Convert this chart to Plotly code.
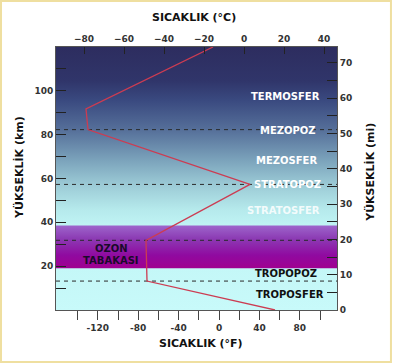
import plotly.graph_objects as go

# ---- data ----
temp_c = [-15.5, -79, -78, 3, -49, -48.5, 15.5]
alt_km = [120, 91.8, 82.3, 57.3, 31.8, 13.2, 0]
boundary_km = [82.3, 57.3, 31.8, 13.2]
ozone_km = [19.1, 38.6]

layer_names = ["TERMOSFER", "MEZOPOZ", "MEZOSFER", "STRATOPOZ", "STRATOSFER",
               "OZON", "TABAKASI", "TROPOPOZ", "TROPOSFER"]
layer_x_c = [20.5, 22, 21, 21.5, 19.5, -66.5, -66.5, 21, 23]
layer_y_km = [97.3, 82, 68.2, 57.3, 45.5, 28.2, 22.7, 16.8, 7.3]
layer_colors = ["#ffffff", "#ffffff", "#ffffff", "#ffffff", "rgba(255,255,255,0.85)",
                "#1a0a2a", "#1a0a2a", "#111111", "#111111"]

c_ticks = [-80, -60, -40, -20, 0, 20, 40]
f_ticks = [-140, -120, -100, -80, -60, -40, -20, 0, 20, 40, 60, 80, 100]
f_labels = ["" if v % 40 else str(v) for v in f_ticks]
km_ticks = [10, 20, 30, 40, 50, 60, 70, 80, 90, 100, 110]
km_labels = ["" if v % 20 else str(v) for v in km_ticks]
mi_ticks = [0, 5, 10, 15, 20, 25, 30, 35, 40, 45, 50, 55, 60, 65, 70]
mi_labels = ["" if v % 10 else str(v) for v in mi_ticks]

C_RANGE = [-94, 46.5]
F_RANGE = [-161.4, 116.8]
KM_RANGE = [0, 120]
MI_RANGE = [0, 74.5]

FONT = "DejaVu Sans"

fig = go.Figure()

# sky gradient background
fig.add_trace(go.Scatter(
    x=[C_RANGE[0], C_RANGE[1], C_RANGE[1], C_RANGE[0], C_RANGE[0]],
    y=[KM_RANGE[0], KM_RANGE[0], KM_RANGE[1], KM_RANGE[1], KM_RANGE[0]],
    xaxis="x2", yaxis="y", mode="lines", line=dict(width=0),
    fill="toself",
    fillgradient=dict(type="vertical", start=0, stop=120, colorscale=[
        [0.0, "#c8fafa"], [0.32, "#c0f4f4"], [0.38, "#b6eaec"],
        [0.475, "#9ccbd6"], [0.567, "#7ca4bc"], [0.683, "#56709a"],
        [0.796, "#3a4a80"], [0.871, "#30356a"], [1.0, "#2d2d5f"]]),
    hoverinfo="skip", showlegend=False))

# ozone band
fig.add_trace(go.Scatter(
    x=[C_RANGE[0], C_RANGE[1], C_RANGE[1], C_RANGE[0], C_RANGE[0]],
    y=[ozone_km[0], ozone_km[0], ozone_km[1], ozone_km[1], ozone_km[0]],
    xaxis="x2", yaxis="y", mode="lines", line=dict(width=0),
    fill="toself",
    fillgradient=dict(type="vertical", start=ozone_km[0], stop=ozone_km[1], colorscale=[
        [0.0, "#a00090"], [0.3, "#900aa0"], [0.7, "#8c3cb4"], [1.0, "#9e66cc"]]),
    hoverinfo="skip", showlegend=False))

# boundary dashed lines
for b in boundary_km:
    fig.add_trace(go.Scatter(
        x=C_RANGE, y=[b, b], xaxis="x2", yaxis="y", mode="lines",
        line=dict(color="#2a2a2a", width=1, dash="4px,4px"),
        hoverinfo="skip", showlegend=False))

# temperature profile
fig.add_trace(go.Scatter(
    x=temp_c, y=alt_km, xaxis="x2", yaxis="y", mode="lines",
    line=dict(color="#cc3c52", width=1.3), showlegend=False))

# dummy traces so the °F and mile axes get drawn
fig.add_trace(go.Scatter(x=[None], y=[None], xaxis="x", yaxis="y", showlegend=False))
fig.add_trace(go.Scatter(x=[None], y=[None], xaxis="x", yaxis="y2", showlegend=False))

tickfont = dict(family=FONT, size=9, color="#333333", weight="bold")

fig.update_layout(
    width=394, height=364,
    margin=dict(l=56, r=57, t=47, b=54),
    paper_bgcolor="#ffffff", plot_bgcolor="#c8fafa",
    showlegend=False,
    xaxis=dict(range=F_RANGE, tickvals=f_ticks, ticktext=f_labels, ticks="outside",
               ticklen=9, tickcolor="#444", showgrid=False, zeroline=False,
               showline=True, linecolor="#555", linewidth=1, tickfont=tickfont),
    xaxis2=dict(range=C_RANGE, overlaying="x", side="top", tickvals=c_ticks,
                ticks="inside", ticklen=7, tickcolor="#222", showgrid=False,
                zeroline=False, showline=True, linecolor="#555", linewidth=1,
                tickfont=tickfont),
    yaxis=dict(range=KM_RANGE, tickvals=km_ticks, ticktext=km_labels, ticks="inside",
               ticklen=10, tickcolor="#222", showgrid=False, zeroline=False,
               showline=True, linecolor="#555", linewidth=1, tickfont=tickfont),
    yaxis2=dict(range=MI_RANGE, overlaying="y", side="right", tickvals=mi_ticks,
                ticktext=mi_labels, ticks="inside", ticklen=10, tickcolor="#222",
                showgrid=False, zeroline=False, showline=True, linecolor="#555",
                linewidth=1, tickfont=tickfont),
)

# layer labels
for name, xc, yk, col in zip(layer_names, layer_x_c, layer_y_km, layer_colors):
    fig.add_annotation(x=xc, y=yk, xref="x2", yref="y", text=name, showarrow=False,
                       xanchor="center", yanchor="middle",
                       font=dict(family=FONT, size=10, color=col, weight="bold"))

titlefont = dict(family=FONT, size=11, color="#111111", weight="bold")
for txt, px, py, ang in [("SICAKLIK (°C)", 0.491, 1.114, 0),
                         ("SICAKLIK (°F)", 0.516, -0.129, 0),
                         ("YÜKSEKLİK (km)", -0.1317, 0.544, -90),
                         ("YÜKSEKLİK (mi)", 1.117, 0.525, -90)]:
    fig.add_annotation(x=px, y=py, xref="paper", yref="paper", text=txt,
                       showarrow=False, textangle=ang, xanchor="center",
                       yanchor="middle", font=titlefont)

# outer frame
fig.add_shape(type="rect", xref="paper", yref="paper",
              x0=-0.1957, x1=1.192, y0=-0.1977, y1=1.175,
              line=dict(color="#efdfa0", width=2), fillcolor="rgba(0,0,0,0)")

fig.write_html("out.html",
               config={"displayModeBar": False},
               post_script="document.body.style.margin='0';"
                           "document.documentElement.style.overflow='hidden';")
